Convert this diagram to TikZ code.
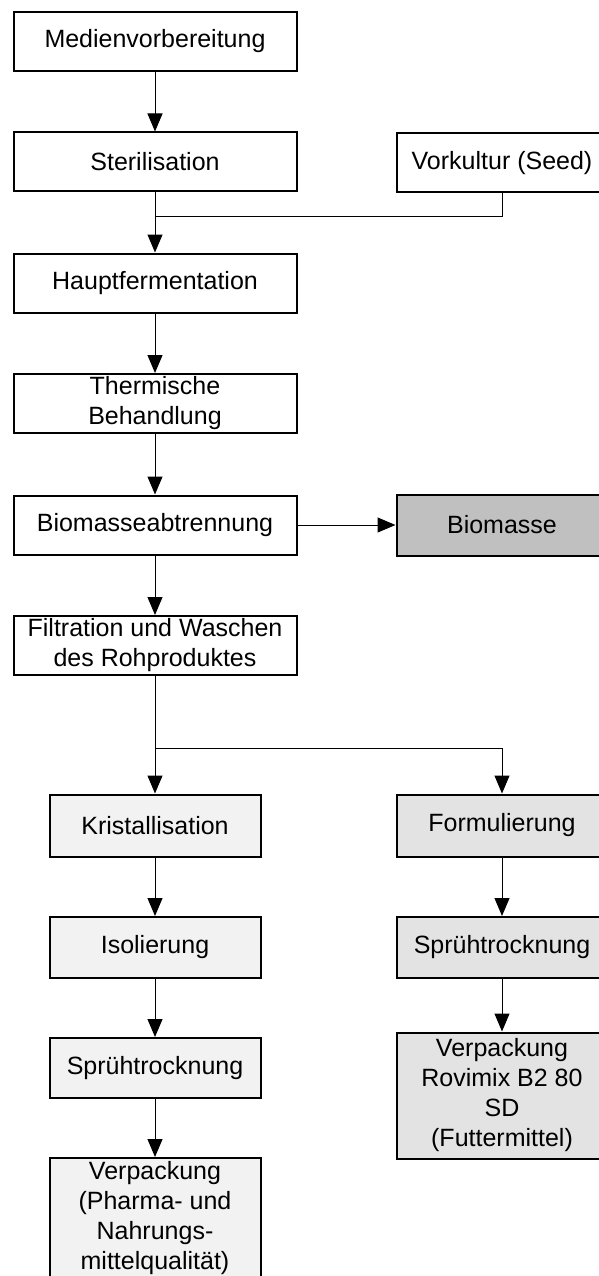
\documentclass[tikz,border=0pt]{standalone}
\usepackage{fontspec}
\setmainfont{Liberation Sans}
\usetikzlibrary{arrows.meta}
\definecolor{fillL}{RGB}{242,242,242}
\definecolor{fillR}{RGB}{227,227,227}
\definecolor{fillB}{RGB}{192,192,192}
\begin{document}
\begin{tikzpicture}[x=1pt,y=-1pt,
  box/.style={draw=black, line width=2pt, fill=white, inner sep=0pt, align=center,
    font=\fontsize{25}{30}\selectfont},
  wide/.style={box, minimum width=283pt, minimum height=59pt},
  narrow/.style={box, minimum width=211pt, minimum height=61pt},
  conn/.style={line width=1pt, -{Triangle[length=18pt,width=15pt]}},
  plain/.style={line width=1pt}
]
\useasboundingbox (0,0) rectangle (599,1276);

\node[wide] (medien) at (155,41.5) {Medienvorbereitung};
\node[wide] (steril) at (155,162) {Sterilisation};
\node[narrow, minimum height=59pt] (vork) at (502,163) {Vorkultur (Seed)};
\node[wide] (haupt) at (155,283) {Hauptfermentation};
\node[wide] (therm) at (155,403.5) {Thermische\\Behandlung};
\node[wide] (bioab) at (155,525) {Biomasseabtrennung};
\node[narrow, fill=fillB] (biom) at (502,525) {Biomasse};
\node[wide] (filt) at (155,645.5) {Filtration und Waschen\\des Rohproduktes};
\node[narrow, fill=fillL, minimum height=62pt] (krist) at (155,825.5) {Kristallisation};
\node[narrow, fill=fillR, minimum height=62pt] (form) at (502,825.5) {Formulierung};
\node[narrow, fill=fillL] (isol) at (155,947.5) {Isolierung};
\node[narrow, fill=fillL, minimum height=60pt] (spr1) at (155,1068) {Sprühtrocknung};
\node[narrow, fill=fillR] (spr2) at (502,947.5) {Sprühtrocknung};
\node[narrow, fill=fillR, minimum height=126pt] (rovi) at (502,1095.5) {Verpackung\\Rovimix B2 80\\SD\\(Futtermittel)};
\node[narrow, fill=fillL, minimum height=120pt] (verp) at (155,1218) {Verpackung\\(Pharma- und\\Nahrungs-\\mittelqualität)};

\coordinate (j1) at (155,216);
\coordinate (j2) at (155,748);

\draw[conn] (medien) -- (steril);
\draw[conn] (steril) -- (haupt);
\draw[plain] (vork.south) |- (j1);
\draw[conn] (haupt) -- (therm);
\draw[conn] (therm) -- (bioab);
\draw[conn] (bioab) -- (biom);
\draw[conn] (bioab) -- (filt);
\draw[conn] (filt) -- (krist);
\draw[conn] (j2) -| (form.north);
\draw[conn] (krist) -- (isol);
\draw[conn] (isol) -- (spr1);
\draw[conn] (spr1) -- (verp);
\draw[conn] (form) -- (spr2);
\draw[conn] (spr2) -- (rovi);
\end{tikzpicture}
\end{document}
